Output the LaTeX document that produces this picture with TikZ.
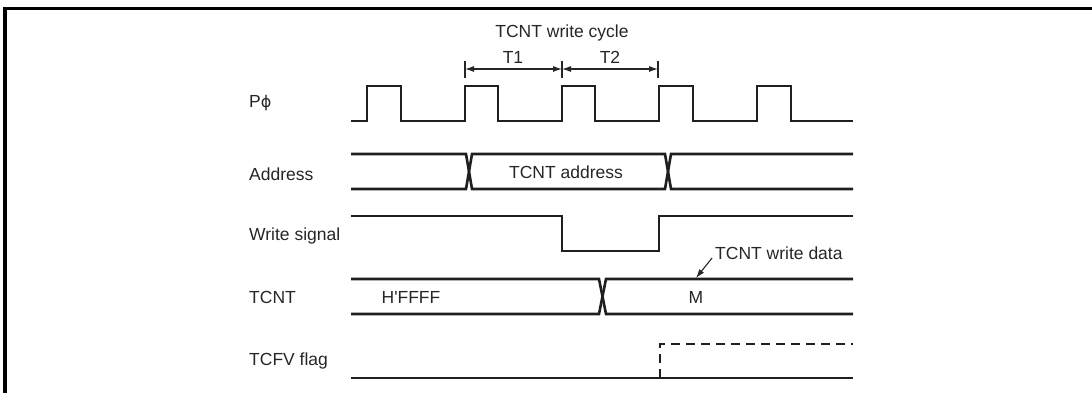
\documentclass[tikz,border=0pt]{standalone}
\usepackage{fontspec}
\setmainfont{Liberation Sans}[Ligatures=TeXOff]
\newfontfamily\symfont{DejaVu Sans}
\usetikzlibrary{arrows.meta}
\begin{document}
\begin{tikzpicture}[x=1pt,y=-1pt,
  sig/.style={line width=2.6pt, line join=miter, draw=black!88},
  frame/.style={line width=3.2pt, draw=black},
  lbl/.style={font=\fontsize{17.5}{20}\selectfont, inner sep=0pt, text=black!85},
  dim/.style={line width=1.1pt, draw=black!85},
  dimarrow/.style={dim, {Latex[length=9pt,width=6pt]}-{Latex[length=9pt,width=6pt]}},
  callout/.style={dim, -{Latex[length=9pt,width=6pt]}}]
\useasboundingbox (0,0) rectangle (1092,393);
% frame
\draw[frame] (5,393) -- (5,8.5) -- (1092,8.5);
% labels
\node[lbl, anchor=west] (lphi) at (249,103) {P{\symfont\fontsize{16}{20}\selectfont ϕ}};
\node[lbl, anchor=west] (laddr) at (249,174) {Address};
\node[lbl, anchor=west] (lwr) at (249,236) {Write signal};
\node[lbl, anchor=west] (ltcnt) at (249,297) {TCNT};
\node[lbl, anchor=west] (ltcfv) at (249,361) {TCFV flag};
% clock
\draw[sig] (351,121) -- (367,121) -- (367,86) -- (401,86) -- (401,121) -- (465,121) -- (465,86) -- (498,86) -- (498,121) -- (562,121) -- (562,86) -- (595,86) -- (595,121) -- (659,121) -- (659,86) -- (693,86) -- (693,121) -- (757,121) -- (757,86) -- (791,86) -- (791,121) -- (853,121);
% cycle dimension
\coordinate (ta) at (465,69);
\coordinate (tb) at (562,69);
\coordinate (tc) at (658,69);
\draw[dim] (465,61) -- (465,78);
\draw[dim] (562,61) -- (562,78);
\draw[dim] (658,61) -- (658,78);
\draw[dimarrow] (ta) -- (tb);
\draw[dimarrow] (tb) -- (tc);
\node[lbl] (title) at (562,33) {TCNT write cycle};
\node[lbl] (t1) at (513,57) {T1};
\node[lbl] (t2) at (610,57) {T2};
% address
\draw[sig] (351,154) -- (466,154) -- (472,189) -- (665,189) -- (671,154) -- (853,154);
\draw[sig] (351,189) -- (466,189) -- (472,154) -- (665,154) -- (671,189) -- (853,189);
\node[lbl] (addr) at (566,172) {TCNT address};
% write signal
\draw[sig] (351,216) -- (562,216) -- (562,251) -- (659,251) -- (659,216) -- (853,216);
% TCNT
\draw[sig] (351,279) -- (599,279) -- (606,314) -- (853,314);
\draw[sig] (351,314) -- (599,314) -- (606,279) -- (853,279);
\node[lbl] (hffff) at (411,297) {H'FFFF};
\node[lbl] (m) at (696,297) {M};
\node[lbl, anchor=west] (wdata) at (715,253) {TCNT write data};
\coordinate (wtip) at (696,278);
\draw[callout] (712,258) -- (wtip);
% TCFV flag
\draw[sig] (351,378) -- (853,378);
\draw[sig, dashed, dash pattern=on 9pt off 6pt] (660,378) -- (660,344) -- (853,344);
\end{tikzpicture}
\end{document}
